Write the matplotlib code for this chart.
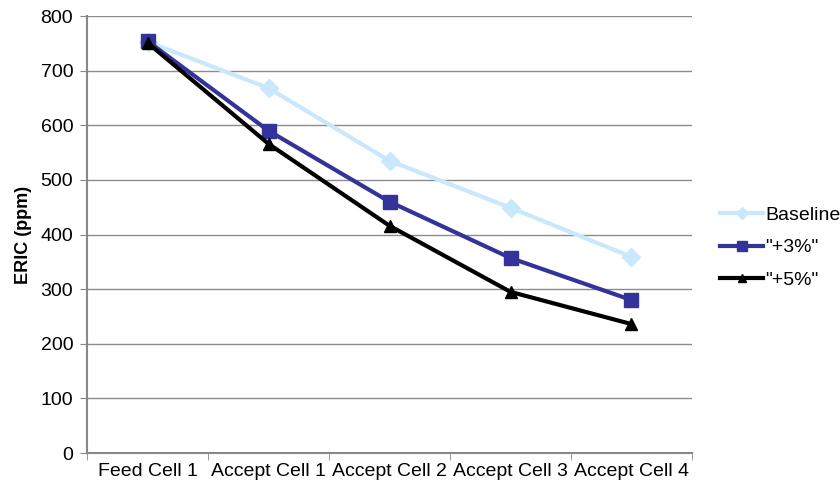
import matplotlib.pyplot as plt

plt.rcParams['font.family'] = ['Liberation Sans', 'DejaVu Sans']

cells = ['Feed Cell 1', 'Accept Cell 1', 'Accept Cell 2', 'Accept Cell 3', 'Accept Cell 4']
baseline = [753, 668, 535, 449, 359]
plus3 = [754, 590, 460, 357, 280]
plus5 = [751, 566, 416, 295, 236]

series = (('Baseline', baseline, '#c9e8fb', 'D', 9),
          ('"+3%"', plus3, '#333399', 's', 10),
          ('"+5%"', plus5, '#000000', '^', 8))


def main():
    fig = plt.figure(figsize=(8.4, 4.9), dpi=100)
    ax = fig.add_axes([0.1036, 0.0755, 0.7202, 0.8918])

    x = range(len(cells))
    for label, values, color, marker, size in series:
        ax.plot(x, values, color=color, marker=marker, markersize=size, linewidth=3,
                markeredgecolor=color, label=label, zorder=3)

    ax.set_xlim(-0.5, len(cells) - 0.5)
    ax.set_ylim(0, 800)
    ax.set_yticks(range(0, 801, 100))
    ax.set_xticks(list(x))
    ax.set_xticklabels(cells)
    ax.set_xticks([i - 0.5 for i in range(len(cells) + 1)], minor=True)
    ax.tick_params(axis='x', which='major', length=0, pad=7, labelsize=14)
    ax.tick_params(axis='x', which='minor', length=5, color='#888888', direction='out')
    ax.tick_params(axis='y', length=5, color='#888888', labelsize=14, pad=5)
    ax.grid(axis='y', color='#8c8c8c', linewidth=1)
    ax.set_axisbelow(True)
    for side in ('top', 'right'):
        ax.spines[side].set_visible(False)
    for side in ('left', 'bottom'):
        ax.spines[side].set_color('#888888')
        ax.spines[side].set_linewidth(1.5)

    ax.set_ylabel('ERIC (ppm)', fontsize=13, fontweight='bold', labelpad=6)

    ax.legend(loc='center left', bbox_to_anchor=(1.0, 0.47), frameon=False, fontsize=14,
              handlelength=2.2, handletextpad=0.1, labelspacing=0.75, borderaxespad=1.25,
              borderpad=0.2, markerscale=0.7)

    plt.savefig('out.png', dpi=100)


if __name__ == '__main__':
    main()
